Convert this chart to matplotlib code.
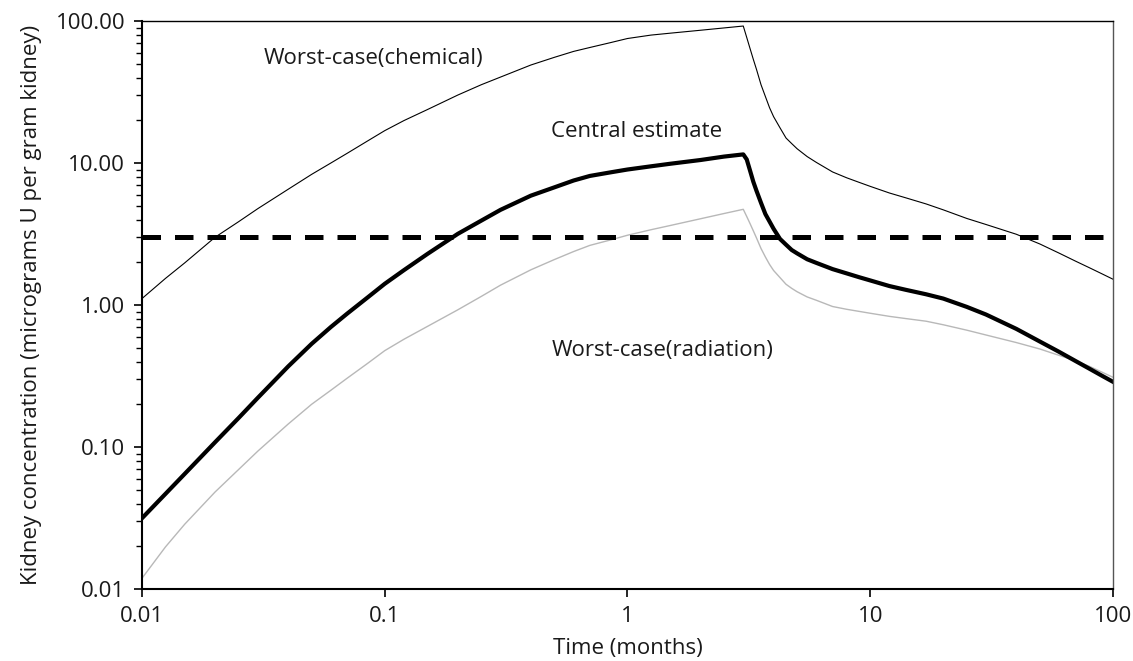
import matplotlib
matplotlib.use("Agg")
import matplotlib.pyplot as plt
from matplotlib.ticker import FixedLocator, FixedFormatter, LogLocator, NullLocator, NullFormatter

plt.rcParams['font.family'] = ['Open Sans', 'DejaVu Sans']

# Time (months) shared by all three curves
time_months = [0.01, 0.0125, 0.015, 0.02, 0.025, 0.03, 0.04, 0.05, 0.06, 0.07,
               0.085, 0.1, 0.12, 0.15, 0.2, 0.25, 0.3, 0.4, 0.5, 0.6,
               0.7, 0.85, 1.0, 1.25, 1.5, 2.0, 2.5, 3.0,
               3.1, 3.2, 3.3, 3.4, 3.55, 3.7, 3.85, 4.0, 4.25, 4.5,
               4.75, 5.0, 5.5, 6, 7, 8, 9, 10, 12, 14,
               17, 20, 25, 30, 40, 50, 60, 70, 80, 90, 100]

# Kidney concentration (micrograms U per gram kidney)
worst_chemical = [1.11, 1.54, 1.98, 3.0, 3.86, 4.77, 6.53, 8.32, 10.0, 11.7,
                  14.3, 16.9, 19.9, 23.8, 30.1, 35.6, 40.3, 49.0, 55.5, 61.1,
                  65.1, 70.4, 75.3, 79.6, 82.1, 86.1, 89.4, 92.2,
                  76.6, 63.9, 53.7, 45.7, 35.6, 29.4, 24.5, 21.2, 17.7, 15.0,
                  13.7, 12.6, 11.1, 10.1, 8.65, 7.87, 7.31, 6.85, 6.15, 5.69,
                  5.15, 4.68, 4.07, 3.69, 3.15, 2.69, 2.32, 2.04, 1.83, 1.66, 1.52]

central = [0.0315, 0.0468, 0.0647, 0.108, 0.160, 0.222, 0.369, 0.533, 0.70, 0.869,
           1.13, 1.41, 1.76, 2.29, 3.17, 3.93, 4.68, 5.89, 6.74, 7.53,
           8.11, 8.59, 9.0, 9.48, 9.88, 10.5, 11.1, 11.5,
           10.6, 8.83, 7.38, 6.38, 5.24, 4.37, 3.87, 3.44, 2.92, 2.66,
           2.44, 2.31, 2.10, 1.98, 1.79, 1.67, 1.57, 1.49, 1.36, 1.28,
           1.19, 1.11, 0.97, 0.857, 0.679, 0.553, 0.468, 0.404, 0.356, 0.318, 0.288]

worst_radiation = [0.0119, 0.0198, 0.0286, 0.0482, 0.0694, 0.0935, 0.145, 0.200, 0.251, 0.305,
                   0.388, 0.477, 0.574, 0.707, 0.925, 1.15, 1.38, 1.77, 2.09, 2.38,
                   2.63, 2.87, 3.10, 3.39, 3.63, 4.05, 4.41, 4.72,
                   4.20, 3.74, 3.33, 2.97, 2.50, 2.18, 1.93, 1.75, 1.56, 1.40,
                   1.31, 1.24, 1.14, 1.08, 0.976, 0.933, 0.902, 0.875, 0.832, 0.803,
                   0.769, 0.726, 0.665, 0.615, 0.544, 0.490, 0.442, 0.405, 0.370, 0.337, 0.310]

threshold = 3.0

x_ticks = [0.01, 0.1, 1, 10, 100]
x_labels = ['0.01', '0.1', '1', '10', '100']
y_ticks = [0.01, 0.1, 1, 10, 100]
y_labels = ['0.01', '0.10', '1.00', '10.00', '100.00']

text_color = '#1a1a1a'

fig = plt.figure(figsize=(11.33, 6.61), dpi=100)
ax = fig.add_axes([0.1253, 0.1089, 0.857, 0.8593])

ax.plot(time_months, worst_chemical, color='black', lw=0.8)
ax.plot(time_months, worst_radiation, color='#b8b8b8', lw=1.0)
ax.plot(time_months, central, color='black', lw=3.0)
ax.axhline(threshold, color='black', lw=3.6, dashes=(3.7, 2.8))

ax.set_xscale('log')
ax.set_yscale('log')
ax.set_xlim(0.01, 100)
ax.set_ylim(0.01, 100)

ax.xaxis.set_major_locator(FixedLocator(x_ticks))
ax.xaxis.set_major_formatter(FixedFormatter(x_labels))
ax.xaxis.set_minor_locator(NullLocator())
ax.yaxis.set_major_locator(FixedLocator(y_ticks))
ax.yaxis.set_major_formatter(FixedFormatter(y_labels))
ax.yaxis.set_minor_locator(LogLocator(base=10, subs=range(2, 10)))
ax.yaxis.set_minor_formatter(NullFormatter())

ax.tick_params(axis='both', which='major', direction='out', length=6, width=1.2,
               labelsize=16, labelcolor=text_color, pad=6)
ax.tick_params(axis='y', which='minor', direction='out', length=4, width=1.0)

for side in ['left', 'bottom']:
    ax.spines[side].set_linewidth(1.5)
ax.spines['top'].set_linewidth(1.0)
ax.spines['right'].set_linewidth(1.0)
ax.spines['right'].set_color('#555555')

ax.set_xlabel('Time (months)', fontsize=16, color=text_color, labelpad=8)
ax.set_ylabel('Kidney concentration (micrograms U per gram kidney)', fontsize=16,
              color=text_color, labelpad=10)

ax.text(0.0896, 54.8, 'Worst-case(chemical)', fontsize=16, color=text_color,
        ha='center', va='center')
ax.text(1.09, 16.8, 'Central estimate', fontsize=16, color=text_color,
        ha='center', va='center')
ax.text(1.39, 0.482, 'Worst-case(radiation)', fontsize=16, color=text_color,
        ha='center', va='center')

fig.savefig('out.png', dpi=100)
